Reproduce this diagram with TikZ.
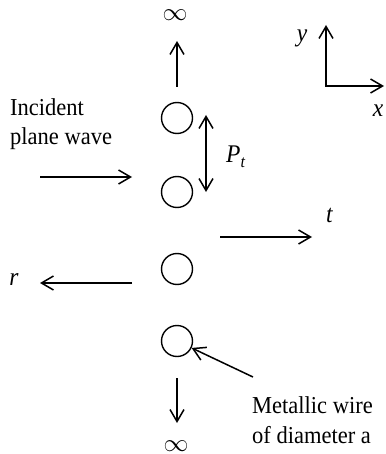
\documentclass[tikz,border=0pt]{standalone}
\usepackage{fontspec}
\setmainfont{Liberation Serif}
\usetikzlibrary{arrows.meta}
\begin{document}
\begin{tikzpicture}[x=1pt,y=-1pt,
  every node/.style={font=\fontsize{22.5}{27.5}\selectfont, inner sep=0pt},
  tall/.style={transform shape, yscale=1.08},
  wire/.style={draw, circle, minimum size=31pt, line width=1.4pt},
  barb/.tip={Straight Barb[length=12pt,width=14pt,line width=1.5pt]},
  arr/.style={line width=1.5pt, -barb},
  darr/.style={line width=1.5pt, barb-barb},
  lab/.style={font=\fontsize{23.5}{27.5}\selectfont\itshape, anchor=base, tall},
  txt/.style={align=left, anchor=base west, tall}]
\useasboundingbox (0,0) rectangle (385,454);

% wires
\node[wire] (w1) at (177,118) {};
\node[wire] (w2) at (177,192) {};
\node[wire] (w3) at (177,269) {};
\node[wire] (w4) at (177,341) {};

% infinity labels
\node[font=\fontsize{25}{27.5}\selectfont] (inftop) at (175,15) {$\infty$};
\node[font=\fontsize{25}{27.5}\selectfont] (infbot) at (176,446) {$\infty$};

% up / down arrows
\coordinate (upT) at (177,87);
\coordinate (upH) at (177,41);
\draw[arr] (upT) -- (upH);
\coordinate (dnT) at (177,378);
\coordinate (dnH) at (177,423);
\draw[arr] (dnT) -- (dnH);

% incident wave
\node[txt] (inc) at (10,145) {Incident\\plane wave};
\coordinate (incT) at (40,177);
\coordinate (incH) at (132,177);
\draw[arr] (incT) -- (incH);

% period
\coordinate (pA) at (206,115);
\coordinate (pB) at (206,192);
\draw[darr] (pA) -- (pB);
\node[lab, anchor=base west] (pt) at (226,163) {P\raisebox{-4pt}{\fontsize{16}{16}\selectfont t}};

% transmitted
\coordinate (tT) at (220,237);
\coordinate (tH) at (312,237);
\draw[arr] (tT) -- (tH);
\node[lab] (tl) at (329.5,222) {t};

% reflected
\coordinate (rT) at (132,283);
\coordinate (rH) at (40,283);
\draw[arr] (rT) -- (rH);
\node[lab] (rl) at (14,285) {r};

% axes
\coordinate (o) at (326,86);
\coordinate (ay) at (326,25);
\coordinate (ax) at (384,86);
\draw[line width=1.5pt, barb-barb] (ay) -- (o) -- (ax);
\node[lab] (yl) at (302,42) {y};
\node[lab] (xl) at (378,117) {x};

% wire label
\node[txt] (met) at (252,443) {Metallic wire\\of diameter a};
\coordinate (mT) at (253,377);
\draw[arr] (mT) -- (w4);
\end{tikzpicture}
\end{document}
